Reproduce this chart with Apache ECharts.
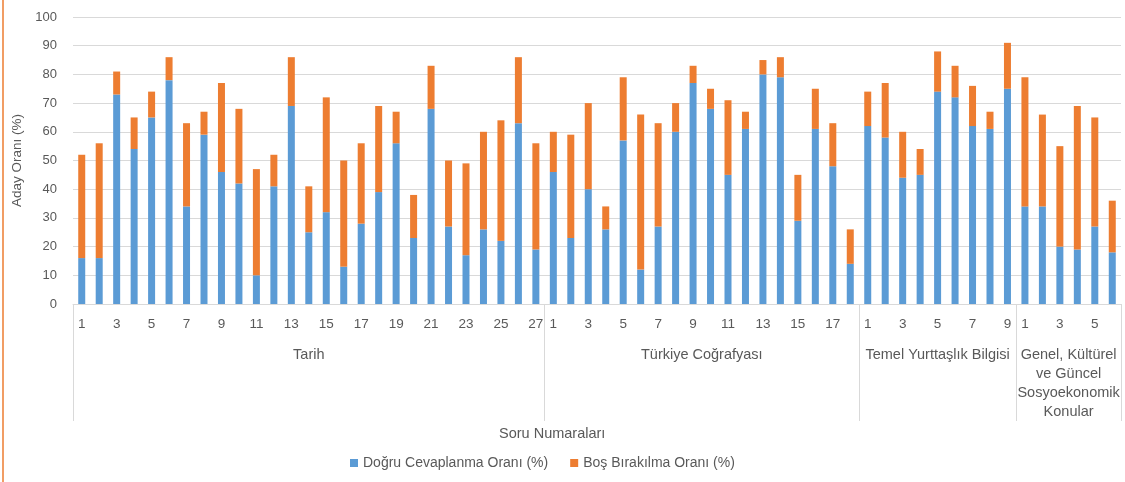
<!DOCTYPE html>
<html><head><meta charset="utf-8">
<script src="https://cdn.jsdelivr.net/npm/echarts@6/dist/echarts.min.js"></script>
<style>html,body{margin:0;padding:0;background:#fff}#c{width:1125px;height:482px}</style>
</head><body><div id="c"></div>
<script>
const groupNames = ['Tarih', 'Türkiye Coğrafyası', 'Temel Yurttaşlık Bilgisi', 'Genel, Kültürel\nve Güncel\nSosyoekonomik\nKonular'];
const groupSizes = [27, 18, 9, 6];
const seriesNames = ['Doğru Cevaplanma Oranı (%)', 'Boş Bırakılma Oranı (%)'];
const yTicks = [0, 10, 20, 30, 40, 50, 60, 70, 80, 90, 100];

const dogruTarih = [16,16,73,54,65,78,34,59,46,42,10,41,69,25,32,13,28,39,56,23,68,27,17,26,22,63,19];
const bosTarih   = [36,40,8,11,9,8,29,8,31,26,37,11,17,16,40,37,28,30,11,15,15,23,32,34,42,23,37];
const dogruCografya = [46,23,40,26,57,12,27,60,77,68,45,61,80,79,29,61,48,14];
const bosCografya   = [14,36,30,8,22,54,36,10,6,7,26,6,5,7,16,14,15,12];
const dogruYurttaslik = [62,58,44,45,74,72,62,61,75];
const bosYurttaslik   = [12,19,16,9,14,11,14,6,16];
const dogruGenel = [34,34,20,19,27,18];
const bosGenel   = [45,32,35,50,38,18];

const dogru = [].concat(dogruTarih, dogruCografya, dogruYurttaslik, dogruGenel);
const bos = [].concat(bosTarih, bosCografya, bosYurttaslik, bosGenel);

// build category list: question numbers within each group
const cats = [];
const boundaries = [];
let start = 0;
groupSizes.forEach(function (n) {
  boundaries.push(start);
  for (let i = 1; i <= n; i++) cats.push(String(i));
  start += n;
});
const nTotal = start;
// group label axis: 2*n+1 points (boundaryGap false), labels at group centers
const groupAxis = [];
for (let i = 0; i <= nTotal * 2; i++) groupAxis.push('');
let s = 0;
groupSizes.forEach(function (n, gi) {
  groupAxis[s * 2 + n] = groupNames[gi];
  s += n;
});

const FONT = 'Liberation Sans';
const TXT = '#595959';
const chart = echarts.init(document.getElementById('c'), null, {renderer: 'canvas'});
chart.setOption({
  animation: false,
  color: ['#5B9BD5', '#ED7D31'],
  textStyle: {fontFamily: FONT},
  grid: {left: 73, right: 4, top: 17, bottom: 178, containLabel: false},
  title: {
    text: 'Soru Numaraları', left: 494, top: 421,
    textStyle: {fontFamily: FONT, fontSize: 14.5, fontWeight: 'normal', color: TXT}
  },
  legend: {
    data: seriesNames, left: 345, top: 451, icon: 'rect', itemWidth: 8, itemHeight: 8, itemGap: 22,
    textStyle: {fontFamily: FONT, fontSize: 14, color: TXT}
  },
  graphic: [{type: 'line', shape: {x1: 3, y1: 0, x2: 3, y2: 482}, style: {stroke: '#ED7D31', lineWidth: 1.5}}],
  xAxis: [{
    type: 'category', data: cats, position: 'bottom',
    axisLine: {show: true, lineStyle: {color: '#d9d9d9'}},
    axisTick: {show: true, length: 117, lineStyle: {color: '#d9d9d9'},
      interval: function (idx) { return boundaries.indexOf(idx) >= 0; }},
    axisLabel: {interval: 0, margin: 13, fontSize: 13.5, color: TXT, fontFamily: FONT,
      formatter: function (v) { return (parseInt(v, 10) % 2 === 1) ? v : ''; }}
  }, {
    type: 'category', data: groupAxis, position: 'bottom', boundaryGap: false, offset: 36,
    axisLine: {show: false}, axisTick: {show: false},
    axisLabel: {interval: 0, margin: 5, fontSize: 14.5, color: TXT, fontFamily: FONT, lineHeight: 19, verticalAlign: 'top'}
  }],
  yAxis: {
    type: 'value', min: yTicks[0], max: yTicks[yTicks.length - 1], interval: 10,
    name: 'Aday Oranı (%)', nameLocation: 'middle', nameGap: 43, nameRotate: 90,
    nameTextStyle: {fontFamily: FONT, fontSize: 13.5, color: TXT},
    axisLine: {show: false}, axisTick: {show: false},
    axisLabel: {fontSize: 13, color: TXT, fontFamily: FONT, margin: 16},
    splitLine: {lineStyle: {color: '#d9d9d9'}}
  },
  series: [{
    name: seriesNames[0], type: 'bar', stack: 'a', data: dogru, barWidth: 7, xAxisIndex: 0
  }, {
    name: seriesNames[1], type: 'bar', stack: 'a', data: bos, barWidth: 7, xAxisIndex: 0
  }]
});
</script></body></html>
